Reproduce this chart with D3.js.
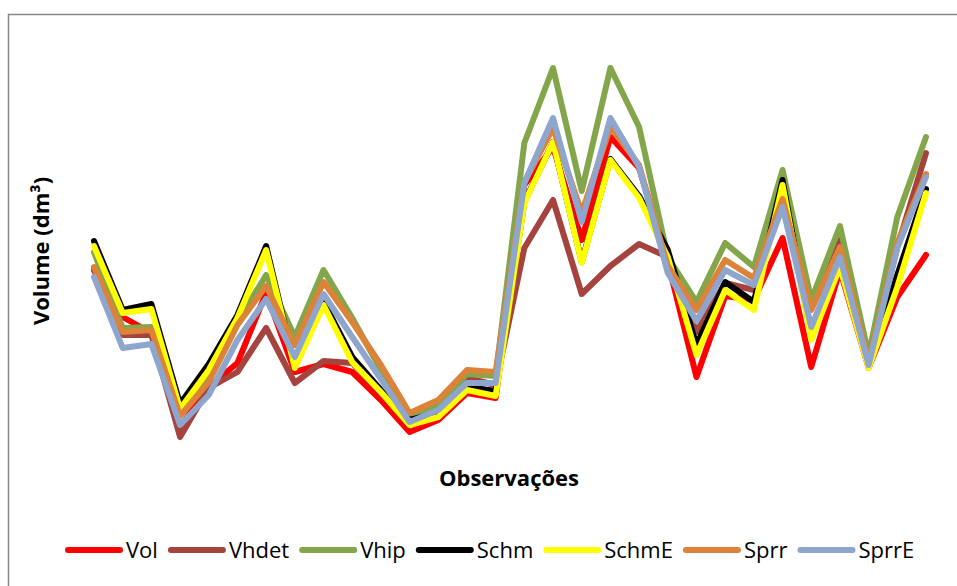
<!DOCTYPE html>
<html>
<head>
<meta charset="utf-8">
<script src="https://cdn.jsdelivr.net/npm/d3@7"></script>
<style>
  html, body { margin: 0; padding: 0; background: #fff; }
  svg { display: block; }
</style>
</head>
<body>
<svg id="chart" width="957" height="586"></svg>
<script>
// ---- DATA (volume, dm³) ----
const observations = d3.range(1, 31);
const seriesNames = ["Vol", "Vhdet", "Vhip", "Schm", "SchmE", "Sprr", "SprrE"];
const seriesColors = ["#FF0000", "#A5433F", "#84A64B", "#000000", "#FFFF00", "#DD8239", "#8EA5CD"];

const Vol   = [190,143,127, 33, 73, 97,167, 88, 96, 88, 60, 28, 40, 67, 62,275,313,220,323,292,198, 83,164,160,222, 93,190, 92,163,205];
const Vhdet = [190,125,125, 23, 72, 88,132, 77, 99, 97, 67, 42, 53, 82, 75,212,260,166,194,216,203,128,177,170,275,152,220, 98,213,307];
const Vhip  = [208,132,133, 47, 82,138,185,123,190,142, 90, 43, 55, 86, 84,317,392,269,392,333,203,158,217,193,290,160,234,105,243,323];
const Schm  = [219,150,156, 56, 96,145,214, 93,158,103, 70, 40, 47, 73, 69,258,318,198,301,264,210,115,178,158,280,123,198, 95,185,271];
const SchmE = [214,147,151, 51, 90,142,210, 92,155, 98, 68, 35, 43, 70, 64,257,318,197,300,262,203,105,170,150,275,120,193, 92,173,267];
const Sprr  = [193,128,130, 44, 78,135,174,115,178,138, 95, 47, 60, 90, 88,278,332,247,333,295,194,150,200,182,261,150,213, 98,217,286];
const SprrE = [183,112,116, 35, 65,120,161,103,166,123, 81, 38, 50, 77, 77,277,342,238,342,293,187,139,190,175,253,133,203, 95,212,283];

const seriesValues = [Vol, Vhdet, Vhip, Schm, SchmE, Sprr, SprrE];
const yTitle = "Volume (dm³)";
const xTitle = "Observações";

// ---- DRAW ----
const svg = d3.select("#chart");
const W = 957, H = 586;
const FONT = "'Open Sans', sans-serif";

svg.append("rect").attr("width", W).attr("height", H).attr("fill", "#fff");
svg.append("rect")
  .attr("x", 8.5).attr("y", 14.5).attr("width", 1000).attr("height", 1000)
  .attr("fill", "none").attr("stroke", "#868686").attr("stroke-width", 1.5);

const x = d3.scaleLinear().domain([1, 30]).range([94, 926]);
const y = d3.scaleLinear().domain([0, 400]).range([460, 60]);

const line = d3.line()
  .x((d, i) => x(observations[i]))
  .y(d => y(d));

const g = svg.append("g");
seriesValues.forEach((vals, k) => {
  g.append("path")
    .datum(vals)
    .attr("d", line)
    .attr("fill", "none")
    .attr("stroke", seriesColors[k])
    .attr("stroke-width", 6)
    .attr("stroke-linejoin", "round")
    .attr("stroke-linecap", "round");
});

// axis titles
svg.append("text")
  .attr("transform", "translate(49,251) rotate(-90)")
  .attr("text-anchor", "middle")
  .attr("font-family", FONT)
  .attr("font-weight", "bold")
  .attr("font-size", 22)
  .attr("fill", "#000")
  .text(yTitle);

svg.append("text")
  .attr("x", 509).attr("y", 486)
  .attr("text-anchor", "middle")
  .attr("font-family", FONT)
  .attr("font-weight", "bold")
  .attr("font-size", 22)
  .attr("fill", "#000")
  .text(xTitle);

// legend
const legend = svg.append("g");
let lx = 68;
const ly = 550;
seriesNames.forEach((name, k) => {
  legend.append("line")
    .attr("x1", lx).attr("x2", lx + 52)
    .attr("y1", ly).attr("y2", ly)
    .attr("stroke", seriesColors[k])
    .attr("stroke-width", 6)
    .attr("stroke-linecap", "round");
  const t = legend.append("text")
    .attr("x", lx + 58).attr("y", ly + 8)
    .attr("font-family", FONT)
    .attr("font-size", 22)
    .attr("fill", "#000")
    .text(name);
  const w = t.node().getComputedTextLength();
  lx = lx + 58 + w + 13;
});
</script>
</body>
</html>
